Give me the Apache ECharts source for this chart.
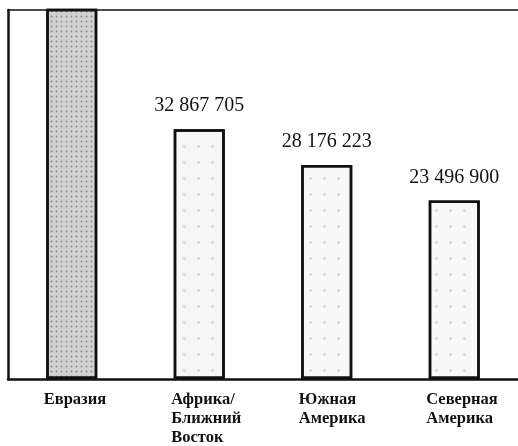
<!DOCTYPE html>
<html style="height: 100%">
    <head>
        <meta charset="utf-8">
    </head>
    <body style="height: 100%; margin: 0; background: #fff">
        <div id="container" style="width: 518px; height: 446px"></div>

        <script type="text/javascript" src="https://cdn.jsdelivr.net/npm/echarts@6/dist/echarts.min.js"></script>
        <script type="text/javascript">
// regions (Eurasia runs off the top of the frame, its figure is not shown)
var regions = ['Евразия', 'Африка/\nБлижний\nВосток', 'Южная\nАмерика', 'Северная\nАмерика'];
var values = [50000000, 32867705, 28176223, 23496900];
var showLabel = [false, true, true, true];
var fills = ['#d2d2d2', '#f6f6f6', '#f8f8f8', '#f8f8f8'];

var dom = document.getElementById("container");
var myChart = echarts.init(dom);
var option;

function fmt(v) {
    // 32867705 -> "32 867 705"
    return String(v).replace(/\B(?=(\d{3})+(?!\d))/g, ' ');
}

var data = values.map(function (v, i) {
    return {
        value: v,
        itemStyle: {
            color: fills[i],
            decal: {
                symbol: 'circle',
                symbolSize: 0.6,
                dashArrayX: i === 0 ? [3, 2] : [5, 9],
                dashArrayY: i === 0 ? [3, 2] : [5, 11],
                color: i === 0 ? 'rgba(0,0,0,0.35)' : 'rgba(0,0,0,0.12)'
            }
        },
        label: { show: showLabel[i] }
    };
});

option = {
    animation: false,
    grid: {
        left: 8,
        top: 10,
        width: 512,
        bottom: 65
    },
    xAxis: [{
        type: 'category',
        data: regions,
        axisLine: { show: true, lineStyle: { color: '#111', width: 2.5 } },
        axisTick: { show: false },
        axisLabel: {
            margin: 11,
            align: 'center',
            formatter: function (s) {
                return s.split('\n').map(function (l) { return '{a|' + l + '}'; }).join('\n');
            },
            rich: {
                a: {
                    width: 56,
                    align: 'left',
                    fontFamily: 'Liberation Serif',
                    fontWeight: 'bold',
                    fontSize: 16.5,
                    lineHeight: 19,
                    color: '#111'
                }
            }
        }
    }, {
        // top edge of the frame
        type: 'category',
        data: regions,
        position: 'top',
        axisLine: { show: true, lineStyle: { color: '#111', width: 1.5 } },
        axisTick: { show: false },
        axisLabel: { show: false }
    }],
    yAxis: {
        type: 'value',
        min: 0,
        max: 48560000,
        axisLine: { show: true, lineStyle: { color: '#111', width: 2.5 } },
        axisTick: { show: false },
        axisLabel: { show: false },
        splitLine: { show: false }
    },
    series: [{
        type: 'bar',
        data: data,
        barWidth: 51,
        itemStyle: {
            borderColor: '#111',
            borderWidth: 2.5
        },
        label: {
            position: 'top',
            distance: 13,
            fontFamily: 'Liberation Serif',
            fontSize: 20,
            color: '#111',
            formatter: function (p) { return fmt(p.value); }
        }
    }]
};

myChart.setOption(option);
        </script>
    </body>
</html>
